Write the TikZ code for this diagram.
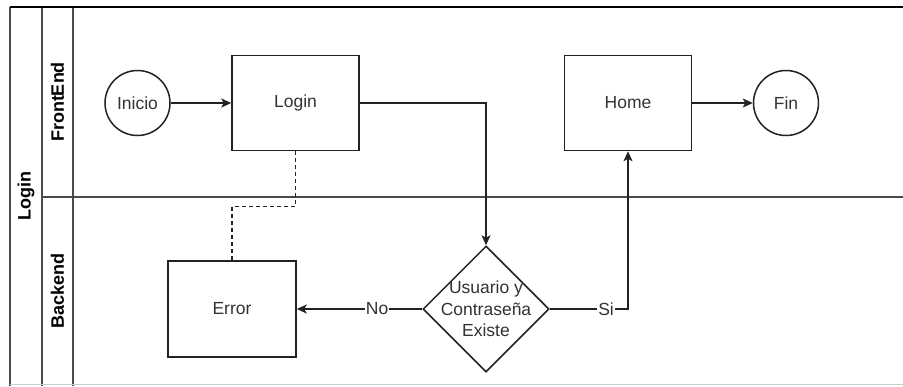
\documentclass[tikz,border=0pt]{standalone}
\usepackage{fontspec}
\setmainfont{Liberation Sans}
\usetikzlibrary{shapes.geometric,arrows.meta}
\definecolor{ln}{HTML}{222222}
\definecolor{tx}{HTML}{333333}
\definecolor{lanec}{HTML}{4A4A4A}
\begin{document}
\begin{tikzpicture}[x=1pt,y=-1pt,
 every node/.style={font=\fontsize{17.5}{21.5}\selectfont, text=tx},
 proc/.style={draw=ln, line width=1.5pt, minimum width=127pt, minimum height=95pt, inner sep=0pt},
 term/.style={circle, draw=ln, line width=1.5pt, minimum size=65pt, inner sep=0pt},
 decision/.style={diamond, draw=ln, line width=1.5pt, minimum width=126pt, minimum height=126pt, inner sep=0pt, aspect=1},
 flow/.style={draw=ln, line width=1.5pt, -{Stealth[length=10pt,width=9pt,inset=2.5pt]}},
 dashflow/.style={draw=ln, line width=1.5pt, dash pattern=on 4pt off 3pt},
 lbl/.style={fill=white, inner sep=1pt},
 lanetitle/.style={rotate=90, font=\fontsize{18}{20}\selectfont\bfseries, text=black},
 laneline/.style={draw=lanec, line width=1.5pt},
]
\useasboundingbox (0,0) rectangle (903,386);
\fill[white] (0,0) rectangle (903,386);
% pool and lanes
\draw[laneline] (10,7) -- (10,386);
\draw[laneline] (42,7) -- (42,386);
\draw[laneline] (73,7) -- (73,386);
\draw[laneline] (42,197) -- (903,197);
\draw[draw=black!20, line width=1pt] (10,384.5) -- (903,384.5);
\draw[draw=black, line width=1.6pt] (10,7) -- (903,7);
\node[lanetitle] (pool) at (26,196) {Login};
\node[lanetitle] (fe) at (57.5,102) {FrontEnd};
\node[lanetitle] (be) at (57.5,291) {Backend};
% nodes
\node[term] (ini) at (137.5,103) {Inicio};
\node[proc] (login) at (295.5,103) {Login};
\node[proc] (home) at (628,103) {Home};
\node[term] (fin) at (786,103) {Fin};
\node[proc, minimum width=128pt, minimum height=96pt] (err) at (232,309) {Error};
\node[decision] (dec) at (486,309) {};
\node[align=center] (dectxt) at (dec) {Usuario y\\Contraseña\\Existe};
% connectors
\draw[flow] (ini) -- (login);
\draw[flow] (login.east) -| (dec.north);
\draw[flow] (dec.east) -| node[lbl, pos=0.36] {Si} (home.south);
\draw[flow] (dec.west) -- node[lbl, pos=0.36] {No} (err.east);
\draw[flow] (home) -- (fin);
\draw[dashflow] (login.south) -- ++(0,55) -| (err.north);
\end{tikzpicture}
\end{document}
